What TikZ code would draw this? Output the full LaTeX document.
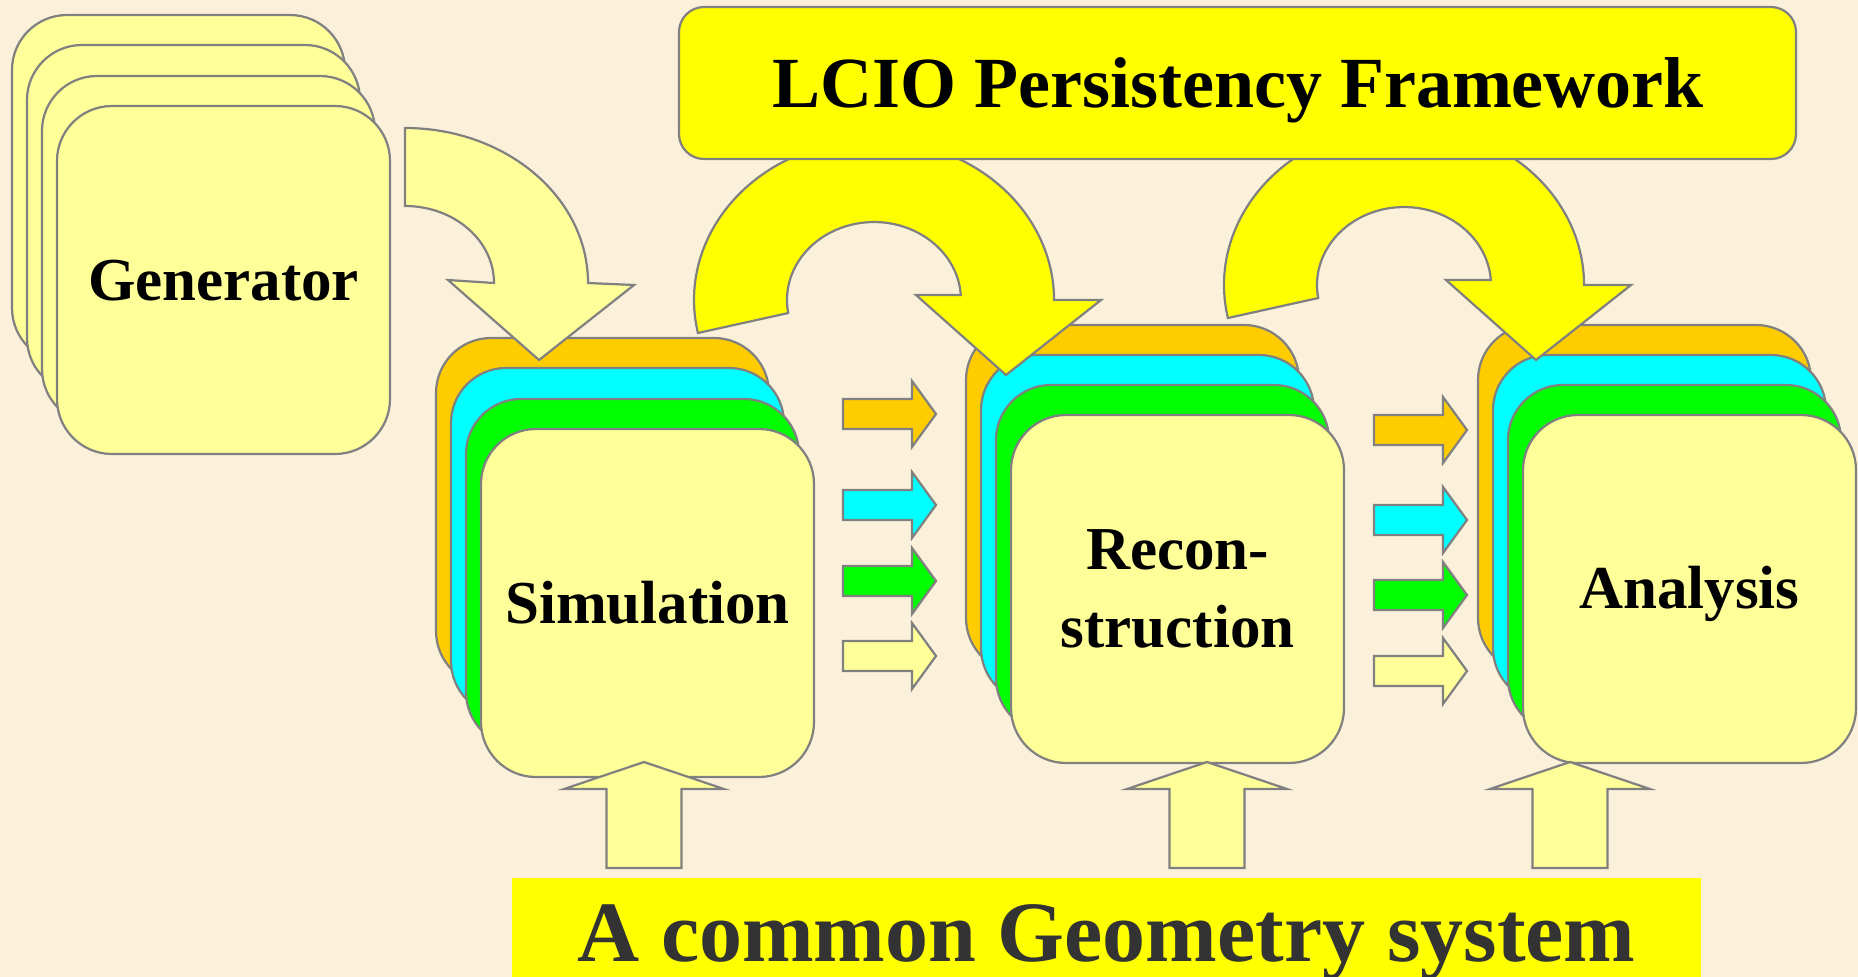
\documentclass[tikz,border=0pt]{standalone}
\usepackage{fontspec}
\setmainfont{Liberation Serif}
\definecolor{bgcol}{RGB}{251,241,219}
\definecolor{cardY}{RGB}{255,255,153}
\definecolor{orangeC}{RGB}{255,204,0}
\definecolor{cyanC}{RGB}{0,255,255}
\definecolor{greenC}{RGB}{0,255,0}
\definecolor{yellowC}{RGB}{255,255,0}
\definecolor{linegray}{RGB}{128,128,128}
\definecolor{textgray}{RGB}{51,51,51}
\tikzset{
  outl/.style={draw=linegray, line width=2.2pt, line join=miter},
  card/.style={outl, rounded corners=55pt, minimum width=333pt, minimum height=348pt, inner sep=0pt},
  lbl/.style={anchor=base, inner sep=0pt, font=\fontsize{61}{78}\selectfont\bfseries},
  rarrow/.pic={\draw[outl, fill=#1] (0,-15) -- (69,-15) -- (69,-33) -- (93,0) -- (69,33) -- (69,15) -- (0,15) -- cycle;},
  uarrow/.pic={\draw[outl, fill=cardY] (0,0) -- (80,27) -- (37.5,27) -- (37.5,106) -- (-37.5,106) -- (-37.5,27) -- (-80,27) -- cycle;}
}
\begin{document}
\begin{tikzpicture}[x=1pt,y=-1pt]
\useasboundingbox (0,0) rectangle (1858,977);
\fill[bgcol] (0,0) rectangle (1858,977);

% Generator stack
\node[card, fill=cardY] (gen1) at (178.5,189) {};
\node[card, fill=cardY] (gen2) at (193.5,219) {};
\node[card, fill=cardY] (gen3) at (208.5,250) {};
\node[card, fill=cardY] (gen4) at (223.5,280) {};
\node[lbl] (genl) at (223.5,300) {Generator};

% Simulation stack
\node[card, fill=orangeC] (sim1) at (602.5,512) {};
\node[card, fill=cyanC]   (sim2) at (617.5,542) {};
\node[card, fill=greenC]  (sim3) at (632.5,573) {};
\node[card, fill=cardY]   (sim4) at (647.5,603) {};
\node[lbl] (siml) at (647.5,623) {Simulation};

% Reconstruction stack
\node[card, fill=orangeC] (rec1) at (1132.5,499) {};
\node[card, fill=cyanC]   (rec2) at (1147.5,529) {};
\node[card, fill=greenC]  (rec3) at (1162.5,559) {};
\node[card, fill=cardY]   (rec4) at (1177.5,589) {};
\node[lbl, anchor=north, align=center] (recl) at (1177.5,529) {Recon-\\struction};

% Analysis stack
\node[card, fill=orangeC] (ana1) at (1644.5,499) {};
\node[card, fill=cyanC]   (ana2) at (1659.5,529) {};
\node[card, fill=greenC]  (ana3) at (1674.5,559) {};
\node[card, fill=cardY]   (ana4) at (1689.5,589) {};
\node[lbl] (anal) at (1689.5,608) {Analysis};

% Generator -> Simulation curved arrow
\draw[outl, fill=cardY] (405,128) arc[start angle=-90, end angle=0, x radius=183, y radius=155]
  -- (634,285) -- (539,360) -- (448,280) -- (494,283)
  arc[start angle=0, end angle=-90, x radius=89, y radius=77] -- cycle;

% LCIO U-turn arrows
\draw[outl, fill=yellowC] (697.9,333) arc[start angle=168.1, end angle=360, x radius=180, y radius=160]
  -- (1101,300) -- (1006,375) -- (916,295) -- (960.8,295)
  arc[start angle=356.3, end angle=170.4, x radius=87, y radius=78] -- cycle;
\draw[outl, fill=yellowC] (1227.9,318) arc[start angle=168.1, end angle=360, x radius=180, y radius=160]
  -- (1631,285) -- (1536,360) -- (1446,280) -- (1490.8,280)
  arc[start angle=356.3, end angle=170.4, x radius=87, y radius=78] -- cycle;

% LCIO box
\node[outl, fill=yellowC, rounded corners=25pt, minimum width=1117pt, minimum height=152pt, inner sep=0pt] (lcio) at (1237.5,83) {};
\node[anchor=base, inner sep=0pt, font=\fontsize{72}{80}\selectfont\bfseries] (lciol) at (1238,107) {LCIO Persistency Framework};

% small arrows Simulation -> Reconstruction
\pic at (843,414) {rarrow=orangeC};
\pic at (843,505) {rarrow=cyanC};
\pic at (843,581) {rarrow=greenC};
\pic at (843,656) {rarrow=cardY};
% small arrows Reconstruction -> Analysis
\pic at (1374,430) {rarrow=orangeC};
\pic at (1374,520) {rarrow=cyanC};
\pic at (1374,595) {rarrow=greenC};
\pic at (1374,671) {rarrow=cardY};

% up arrows from geometry
\pic at (644,762) {uarrow};
\pic at (1207,762) {uarrow};
\pic at (1570,762) {uarrow};

% Geometry box
\fill[yellowC] (512,878) rectangle (1701,990);
\node[anchor=base, inner sep=0pt, text=textgray, font=\fontsize{86}{90}\selectfont\bfseries] (geo) at (1106.5,961) {A common Geometry system};
\end{tikzpicture}
\end{document}
